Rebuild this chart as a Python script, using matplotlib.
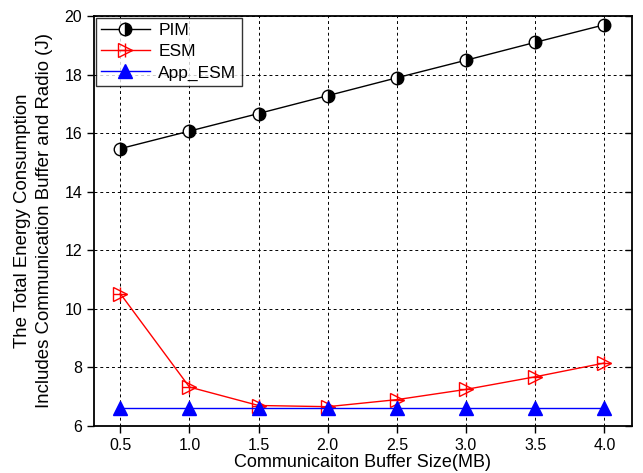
import numpy as np
import matplotlib.pyplot as plt
from matplotlib.legend_handler import HandlerTuple

plt.rcParams['font.family'] = ['Liberation Sans', 'DejaVu Sans']

buffer_mb = [0.5, 1.0, 1.5, 2.0, 2.5, 3.0, 3.5, 4.0]
pim = [15.47, 16.07, 16.67, 17.28, 17.89, 18.49, 19.10, 19.70]
esm = [10.52, 7.33, 6.70, 6.66, 6.90, 7.25, 7.68, 8.15]
app_esm = [6.62, 6.62, 6.62, 6.62, 6.62, 6.62, 6.62, 6.62]

fig = plt.figure(figsize=(6.43, 4.73), dpi=100)
ax = fig.add_axes([94/643, 1 - 426/473, (632 - 94)/643, (426 - 16)/473])

l_pim, = ax.plot(buffer_mb, pim, color='black', lw=1, marker='o', ms=9,
                 fillstyle='right', markerfacecolor='black', markerfacecoloralt='white',
                 markeredgecolor='black', markeredgewidth=1, zorder=3)
l_esm, = ax.plot(buffer_mb, esm, color='red', lw=1, marker='>', ms=10,
                 markerfacecolor='none', markeredgecolor='red', markeredgewidth=1, zorder=3)
l_plus, = ax.plot(buffer_mb, esm, color='none', marker='+', ms=10,
                  markeredgecolor='red', markeredgewidth=1, zorder=3)
l_app, = ax.plot(buffer_mb, app_esm, color='blue', lw=1, marker='^', ms=10,
                 markerfacecolor='blue', markeredgecolor='blue', zorder=4)

ax.set_xlim(0.31, 4.2)
ax.set_ylim(6, 20)
ax.set_xticks(buffer_mb)
ax.set_xticklabels([f'{v:.1f}' for v in buffer_mb])
ax.set_yticks(np.arange(6, 21, 2))
ax.grid(True, color='black', ls=(0, (3, 3)), lw=0.7)
ax.tick_params(direction='out', length=5, width=1, labelsize=11.5)
ax.tick_params(axis='y', which='both', right=True)
for t in ax.yaxis.get_major_ticks():
    t.tick2line.set_marker(0)  # right-side ticks point inward
for s in ax.spines.values():
    s.set_linewidth(1.3)

ax.set_xlabel('Communicaiton Buffer Size(MB)', fontsize=13, labelpad=1)
ax.set_ylabel('The Total Energy Consumption\nIncludes Communication Buffer and Radio (J)',
              fontsize=13.4, labelpad=8, linespacing=1.4)

leg = ax.legend([l_pim, (l_esm, l_plus), l_app], ['PIM', 'ESM', 'App_ESM'],
                handler_map={tuple: HandlerTuple(ndivide=1, pad=0)},
                loc='upper left', fontsize=12.5, frameon=True, fancybox=False,
                edgecolor='black', borderaxespad=0.1, handlelength=2.8,
                labelspacing=0.35, borderpad=0.3, handletextpad=0.5)
leg.get_frame().set_linewidth(1)

fig.savefig('out.png', dpi=100)
